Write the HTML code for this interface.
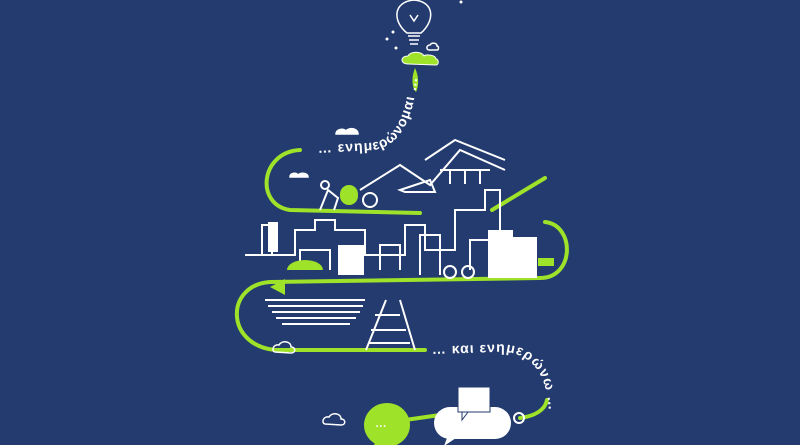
<!DOCTYPE html>
<html><head><meta charset="utf-8"><style>
html,body{margin:0;padding:0;background:#233b6e;}
svg{display:block}
text{font-family:"Liberation Sans","DejaVu Sans",sans-serif;font-weight:bold;fill:#fff}
</style></head><body>
<svg width="800" height="445" viewBox="0 0 800 445" xmlns="http://www.w3.org/2000/svg">
<rect width="800" height="445" fill="#233b6e"/>
<defs>
<path id="t1" d="M318,153 L374,150 C396,146 412,128 417,80"/>
<path id="t2" d="M432,354 L496,352 C528,350 548,370 549,415"/>
</defs>
<!-- bulb -->
<g stroke="#fff" stroke-width="1.5" fill="none">
<path d="M407,33 C393,22 392,2 414,0 C436,2 434,22 421,33 Z"/>
<path d="M408,36 h12 M409,40 h10 M410,44 h8"/>
<path d="M410,15 l4,6 l4,-6"/>
<path d="M429,50 c-3,0 -3,-5 1,-5 c2,-3 7,-2 7,1 c2,0 2,4 0,4 z"/>
</g>
<g fill="#fff"><circle cx="393" cy="32" r="1.5"/><circle cx="387" cy="39" r="1.5"/><circle cx="396" cy="48" r="1.5"/><circle cx="461" cy="2" r="1.5"/></g>
<path d="M408,64 c-8,0 -8,-8 0,-8 c2,-5 14,-5 16,0 c2,-2 12,-1 12,3 c3,0 3,6 0,6 z" fill="#9ee22a" stroke="#fff" stroke-width="1"/>
<path d="M415,68 C411,78 412,88 416,92 C419,86 419,76 415,68 Z" fill="#9ee22a"/>
<!-- green road -->
<g stroke="#9ee22a" stroke-width="4" fill="none" stroke-linecap="round">
<path d="M300,150 C260,152 255,205 290,210 L420,213"/>
<path d="M492,210 L545,178"/>
<path d="M545,222 C575,225 575,278 540,278 L270,282 C225,285 225,345 275,350 L425,350"/>
<path d="M547,400 C545,410 535,416 520,418"/>
<path d="M405,420 L440,415"/>
</g>
<text font-size="14" letter-spacing="1"><textPath href="#t1">… ενημερώνομαι …</textPath></text>
<text font-size="14" letter-spacing="1"><textPath href="#t2">… και ενημερώνω …</textPath></text>
<!-- city / landscape line art -->
<g stroke="#fff" stroke-width="2" fill="none">
<path d="M360,190 L400,165 L430,185 L460,150 L505,170"/>
<path d="M425,160 L455,140 L505,160"/>
<path d="M400,190 l30,-10 l5,12 h-30z"/>
<path d="M440,170 h50 M450,170 v14 M465,170 v14 M480,170 v14"/>
<path d="M320,210 l8,-20 l10,8 l-4,12"/>
<circle cx="325" cy="185" r="4"/>
<circle cx="370" cy="200" r="7"/>
<path d="M245,255 h30 M262,255 v-30 h10 v30 M275,255 h20 v-25 h20 v-10 h20 v10 h30 v25 h40 v-30 h20 v25 h30 v-40 h30 v-20 h15 v50 h30"/>
<path d="M300,270 v-20 h30 v20 M380,270 v-25 h20 v25 M420,275 v-40 h20 v40 M470,270 v-30 h20 v30"/>
<circle cx="450" cy="272" r="6"/><circle cx="468" cy="272" r="6"/>
<path d="M386,300 l-20,50 M400,300 l15,50 M375,315 h25 M371,330 h35 M368,343 h42"/>
<path d="M265,300 h100 M268,306 h95 M272,312 h88 M276,318 h80 M282,324 h68"/>
</g>
<g fill="#fff">
<rect x="268" y="222" width="10" height="30"/>
<rect x="488" y="230" width="25" height="48"/>
<rect x="512" y="237" width="25" height="41"/>
<rect x="338" y="245" width="26" height="30"/>
<path d="M287,270 a18,10 0 0,1 36,0 z" fill="#9ee22a"/>
<rect x="340" y="185" width="18" height="20" rx="9" fill="#9ee22a"/>
<rect x="538" y="258" width="16" height="8" fill="#9ee22a"/>
<path d="M270,287 l15,-8 v16z" fill="#9ee22a"/>
</g>
<!-- clouds -->
<g fill="none" stroke="#fff" stroke-width="1.5">
<path d="M336,134 c0,-5 8,-6 10,-3 c3,-4 12,-3 12,3 z" fill="#fff"/>
<path d="M290,177 c0,-4 6,-5 8,-2 c3,-3 10,-2 10,2 z" fill="#fff"/>
<path d="M275,352 c-4,-1 -2,-8 4,-7 c3,-5 12,-4 12,2 c5,0 5,6 0,6 z"/>
<path d="M325,424 c-4,-1 -2,-8 4,-7 c3,-5 12,-4 12,2 c5,0 5,6 0,6 z"/>
</g>
<!-- speech bubbles -->
<ellipse cx="387" cy="425" rx="23" ry="22" fill="#9ee22a"/>
<path d="M376,440 l-3,8 l14,-4z" fill="#9ee22a"/>
<text x="376" y="428" font-size="6" fill="#fff">• • •</text>
<path d="M450,407 h45 a16,16 0 0 1 0,32 h-45 a16,16 0 0 1 0,-32z" fill="#fff"/>
<path d="M447,438 l-3,8 l12,-8z" fill="#fff"/>
<rect x="458" y="387" width="32" height="25" fill="#fff" stroke="#233b6e" stroke-width="1"/>
<path d="M462,412 v8 l6,-8z" fill="#fff" stroke="#233b6e" stroke-width="1"/>
<text x="466" y="402" font-size="6" fill="#8899bb">• • •</text>
<circle cx="519" cy="418" r="5" fill="none" stroke="#fff" stroke-width="2"/>
</svg>
</body></html>
